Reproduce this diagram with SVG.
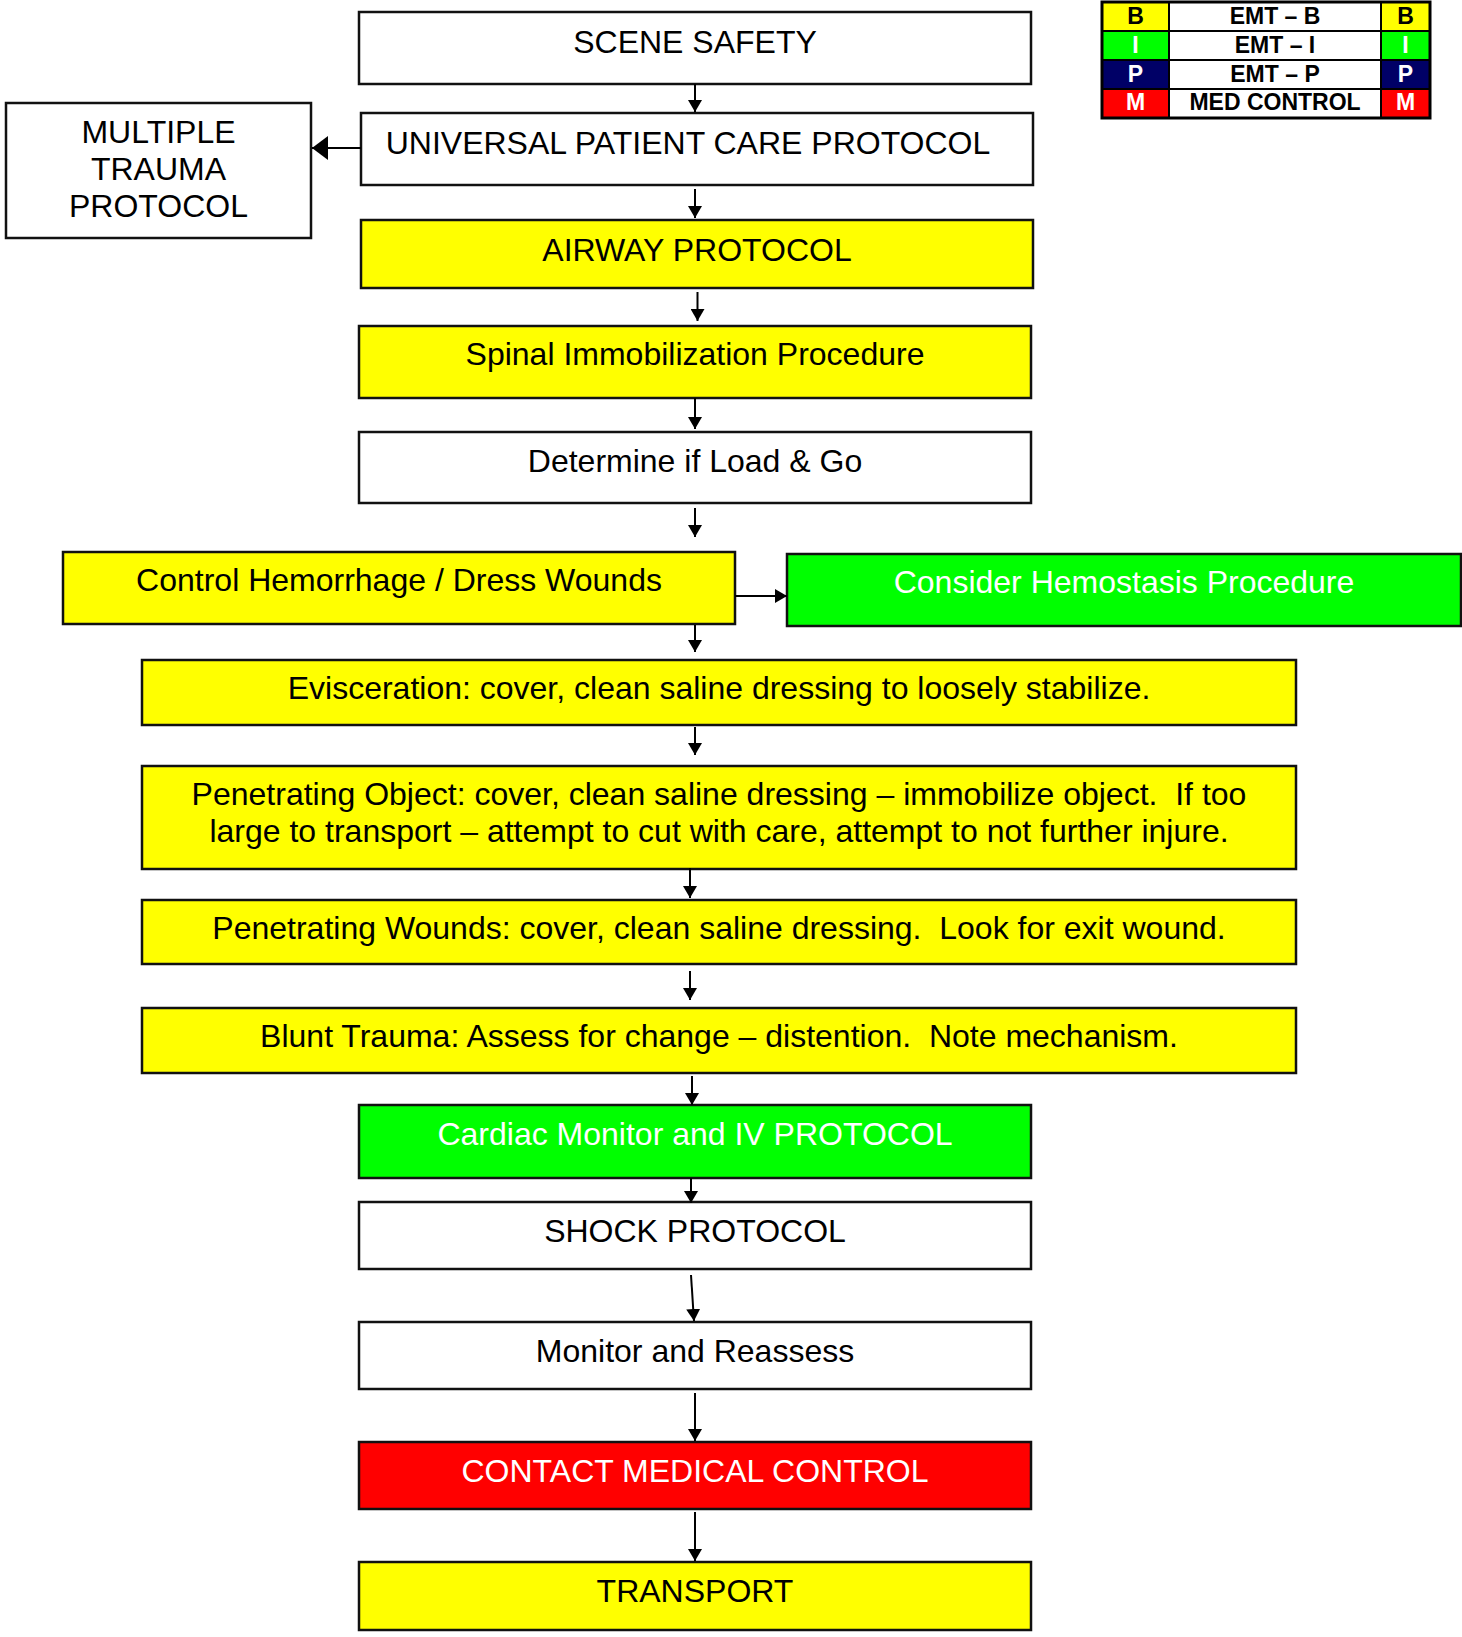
<svg xmlns="http://www.w3.org/2000/svg" width="1462" height="1637" viewBox="0 0 1462 1637">
<style>
.box{stroke:#111;stroke-width:2.5}
.w{fill:#fff}.y{fill:#ffff00}.g{fill:#00ff00}.r{fill:#ff0000}.n{fill:#000066}
.t{font-family:"Liberation Sans",Arial,sans-serif;font-size:32px;fill:#000;text-anchor:middle}
.lg{font-family:"Liberation Sans",Arial,sans-serif;font-size:23px;font-weight:bold;text-anchor:middle;fill:#000}
.tw{fill:#fff}
.conn line{stroke:#000;stroke-width:2}
</style>
<defs>
<marker id="ah" viewBox="0 0 12 14" refX="12" refY="7" markerWidth="12" markerHeight="14" markerUnits="userSpaceOnUse" orient="auto">
<path d="M0,0 L12,7 L0,14 Z" fill="#000"/>
</marker>
<marker id="ahb" viewBox="0 0 16 24" refX="16" refY="12" markerWidth="16" markerHeight="24" markerUnits="userSpaceOnUse" orient="auto">
<path d="M0,0 L16,12 L0,24 Z" fill="#000"/>
</marker>
</defs>
<rect width="1462" height="1637" fill="#fff"/>

<g id="legend">
<rect x="1102" y="2" width="67" height="29" class="y"/>
<rect x="1169" y="2" width="212" height="29" class="w"/>
<rect x="1381" y="2" width="49" height="29" class="y"/>
<rect x="1102" y="31" width="67" height="29" class="g"/>
<rect x="1169" y="31" width="212" height="29" class="w"/>
<rect x="1381" y="31" width="49" height="29" class="g"/>
<rect x="1102" y="60" width="67" height="29" class="n"/>
<rect x="1169" y="60" width="212" height="29" class="w"/>
<rect x="1381" y="60" width="49" height="29" class="n"/>
<rect x="1102" y="89" width="67" height="29" class="r"/>
<rect x="1169" y="89" width="212" height="29" class="w"/>
<rect x="1381" y="89" width="49" height="29" class="r"/>
<g stroke="#000" stroke-width="2" fill="none">
<rect x="1102" y="2" width="328" height="116" stroke-width="3"/>
<line x1="1169" y1="2" x2="1169" y2="118"/>
<line x1="1381" y1="2" x2="1381" y2="118"/>
<line x1="1102" y1="31" x2="1430" y2="31"/>
<line x1="1102" y1="60" x2="1430" y2="60"/>
<line x1="1102" y1="89" x2="1430" y2="89"/>
</g>
<text class="lg" x="1135.5" y="24">B</text>
<text class="lg" x="1275" y="24">EMT – B</text>
<text class="lg" x="1405.5" y="24">B</text>
<text class="lg tw" x="1135.5" y="53">I</text>
<text class="lg" x="1275" y="53">EMT – I</text>
<text class="lg tw" x="1405.5" y="53">I</text>
<text class="lg tw" x="1135.5" y="82">P</text>
<text class="lg" x="1275" y="82">EMT – P</text>
<text class="lg tw" x="1405.5" y="82">P</text>
<text class="lg tw" x="1135.5" y="110">M</text>
<text class="lg" x="1275" y="110">MED CONTROL</text>
<text class="lg tw" x="1405.5" y="110">M</text>
</g>

<g id="scene-safety">
<rect x="359" y="12" width="672" height="72" class="box w"/>
<text class="t" x="695" y="53">SCENE SAFETY</text>
</g>
<g id="universal">
<rect x="361" y="113" width="672" height="72" class="box w"/>
<text class="t" x="688" y="154">UNIVERSAL PATIENT CARE PROTOCOL</text>
</g>
<g id="multiple-trauma">
<rect x="6" y="103" width="305" height="135" class="box w"/>
<text class="t" x="158.5" y="143">MULTIPLE</text>
<text class="t" x="158.5" y="180">TRAUMA</text>
<text class="t" x="158.5" y="217">PROTOCOL</text>
</g>
<g id="airway">
<rect x="361" y="220" width="672" height="68" class="box y"/>
<text class="t" x="697" y="261">AIRWAY PROTOCOL</text>
</g>
<g id="spinal">
<rect x="359" y="326" width="672" height="72" class="box y"/>
<text class="t" x="695" y="365">Spinal Immobilization Procedure</text>
</g>
<g id="load-go">
<rect x="359" y="432" width="672" height="71" class="box w"/>
<text class="t" x="695" y="472">Determine if Load &amp; Go</text>
</g>
<g id="hemorrhage">
<rect x="63" y="552" width="672" height="72" class="box y"/>
<text class="t" x="399" y="591">Control Hemorrhage / Dress Wounds</text>
</g>
<g id="hemostasis">
<rect x="787" y="554" width="674" height="72" class="box g"/>
<text class="t tw" x="1124" y="593">Consider Hemostasis Procedure</text>
</g>
<g id="evisceration">
<rect x="142" y="660" width="1154" height="65" class="box y"/>
<text class="t" x="719" y="699">Evisceration: cover, clean saline dressing to loosely stabilize.</text>
</g>
<g id="penetrating-object">
<rect x="142" y="766" width="1154" height="103" class="box y"/>
<text class="t" x="719" y="805" xml:space="preserve">Penetrating Object: cover, clean saline dressing – immobilize object.  If too</text>
<text class="t" x="719" y="842">large to transport – attempt to cut with care, attempt to not further injure.</text>
</g>
<g id="penetrating-wounds">
<rect x="142" y="900" width="1154" height="64" class="box y"/>
<text class="t" x="719" y="939" xml:space="preserve">Penetrating Wounds: cover, clean saline dressing.  Look for exit wound.</text>
</g>
<g id="blunt-trauma">
<rect x="142" y="1008" width="1154" height="65" class="box y"/>
<text class="t" x="719" y="1047" xml:space="preserve">Blunt Trauma: Assess for change – distention.  Note mechanism.</text>
</g>
<g id="cardiac">
<rect x="359" y="1105" width="672" height="73" class="box g"/>
<text class="t tw" x="695" y="1145">Cardiac Monitor and IV PROTOCOL</text>
</g>
<g id="shock">
<rect x="359" y="1202" width="672" height="67" class="box w"/>
<text class="t" x="695" y="1242">SHOCK PROTOCOL</text>
</g>
<g id="monitor">
<rect x="359" y="1322" width="672" height="67" class="box w"/>
<text class="t" x="695" y="1362">Monitor and Reassess</text>
</g>
<g id="contact">
<rect x="359" y="1442" width="672" height="67" class="box r"/>
<text class="t tw" x="695" y="1482">CONTACT MEDICAL CONTROL</text>
</g>
<g id="transport">
<rect x="359" y="1562" width="672" height="68" class="box y"/>
<text class="t" x="695" y="1602">TRANSPORT</text>
</g>

<g id="connectors" class="conn">
<line x1="695" y1="84" x2="695" y2="112" marker-end="url(#ah)"/>
<line x1="361" y1="148" x2="312" y2="148" stroke-width="3" marker-end="url(#ahb)"/>
<line x1="695" y1="189" x2="695" y2="218" marker-end="url(#ah)"/>
<line x1="697.5" y1="292" x2="697.5" y2="321" marker-end="url(#ah)"/>
<line x1="695" y1="398" x2="695" y2="429" marker-end="url(#ah)"/>
<line x1="695" y1="508" x2="695" y2="537" marker-end="url(#ah)"/>
<line x1="735" y1="596" x2="787" y2="596" marker-end="url(#ah)"/>
<line x1="695" y1="625" x2="695" y2="652" marker-end="url(#ah)"/>
<line x1="695" y1="727" x2="695" y2="755" marker-end="url(#ah)"/>
<line x1="690" y1="868" x2="690" y2="898" marker-end="url(#ah)"/>
<line x1="690" y1="971" x2="690" y2="1000" marker-end="url(#ah)"/>
<line x1="692" y1="1076" x2="692" y2="1105" marker-end="url(#ah)"/>
<line x1="691" y1="1178" x2="691" y2="1203" marker-end="url(#ah)"/>
<line x1="691" y1="1275" x2="694" y2="1321" marker-end="url(#ah)"/>
<line x1="695" y1="1393" x2="695" y2="1441" marker-end="url(#ah)"/>
<line x1="695" y1="1512" x2="695" y2="1561" marker-end="url(#ah)"/>
</g>
</svg>
